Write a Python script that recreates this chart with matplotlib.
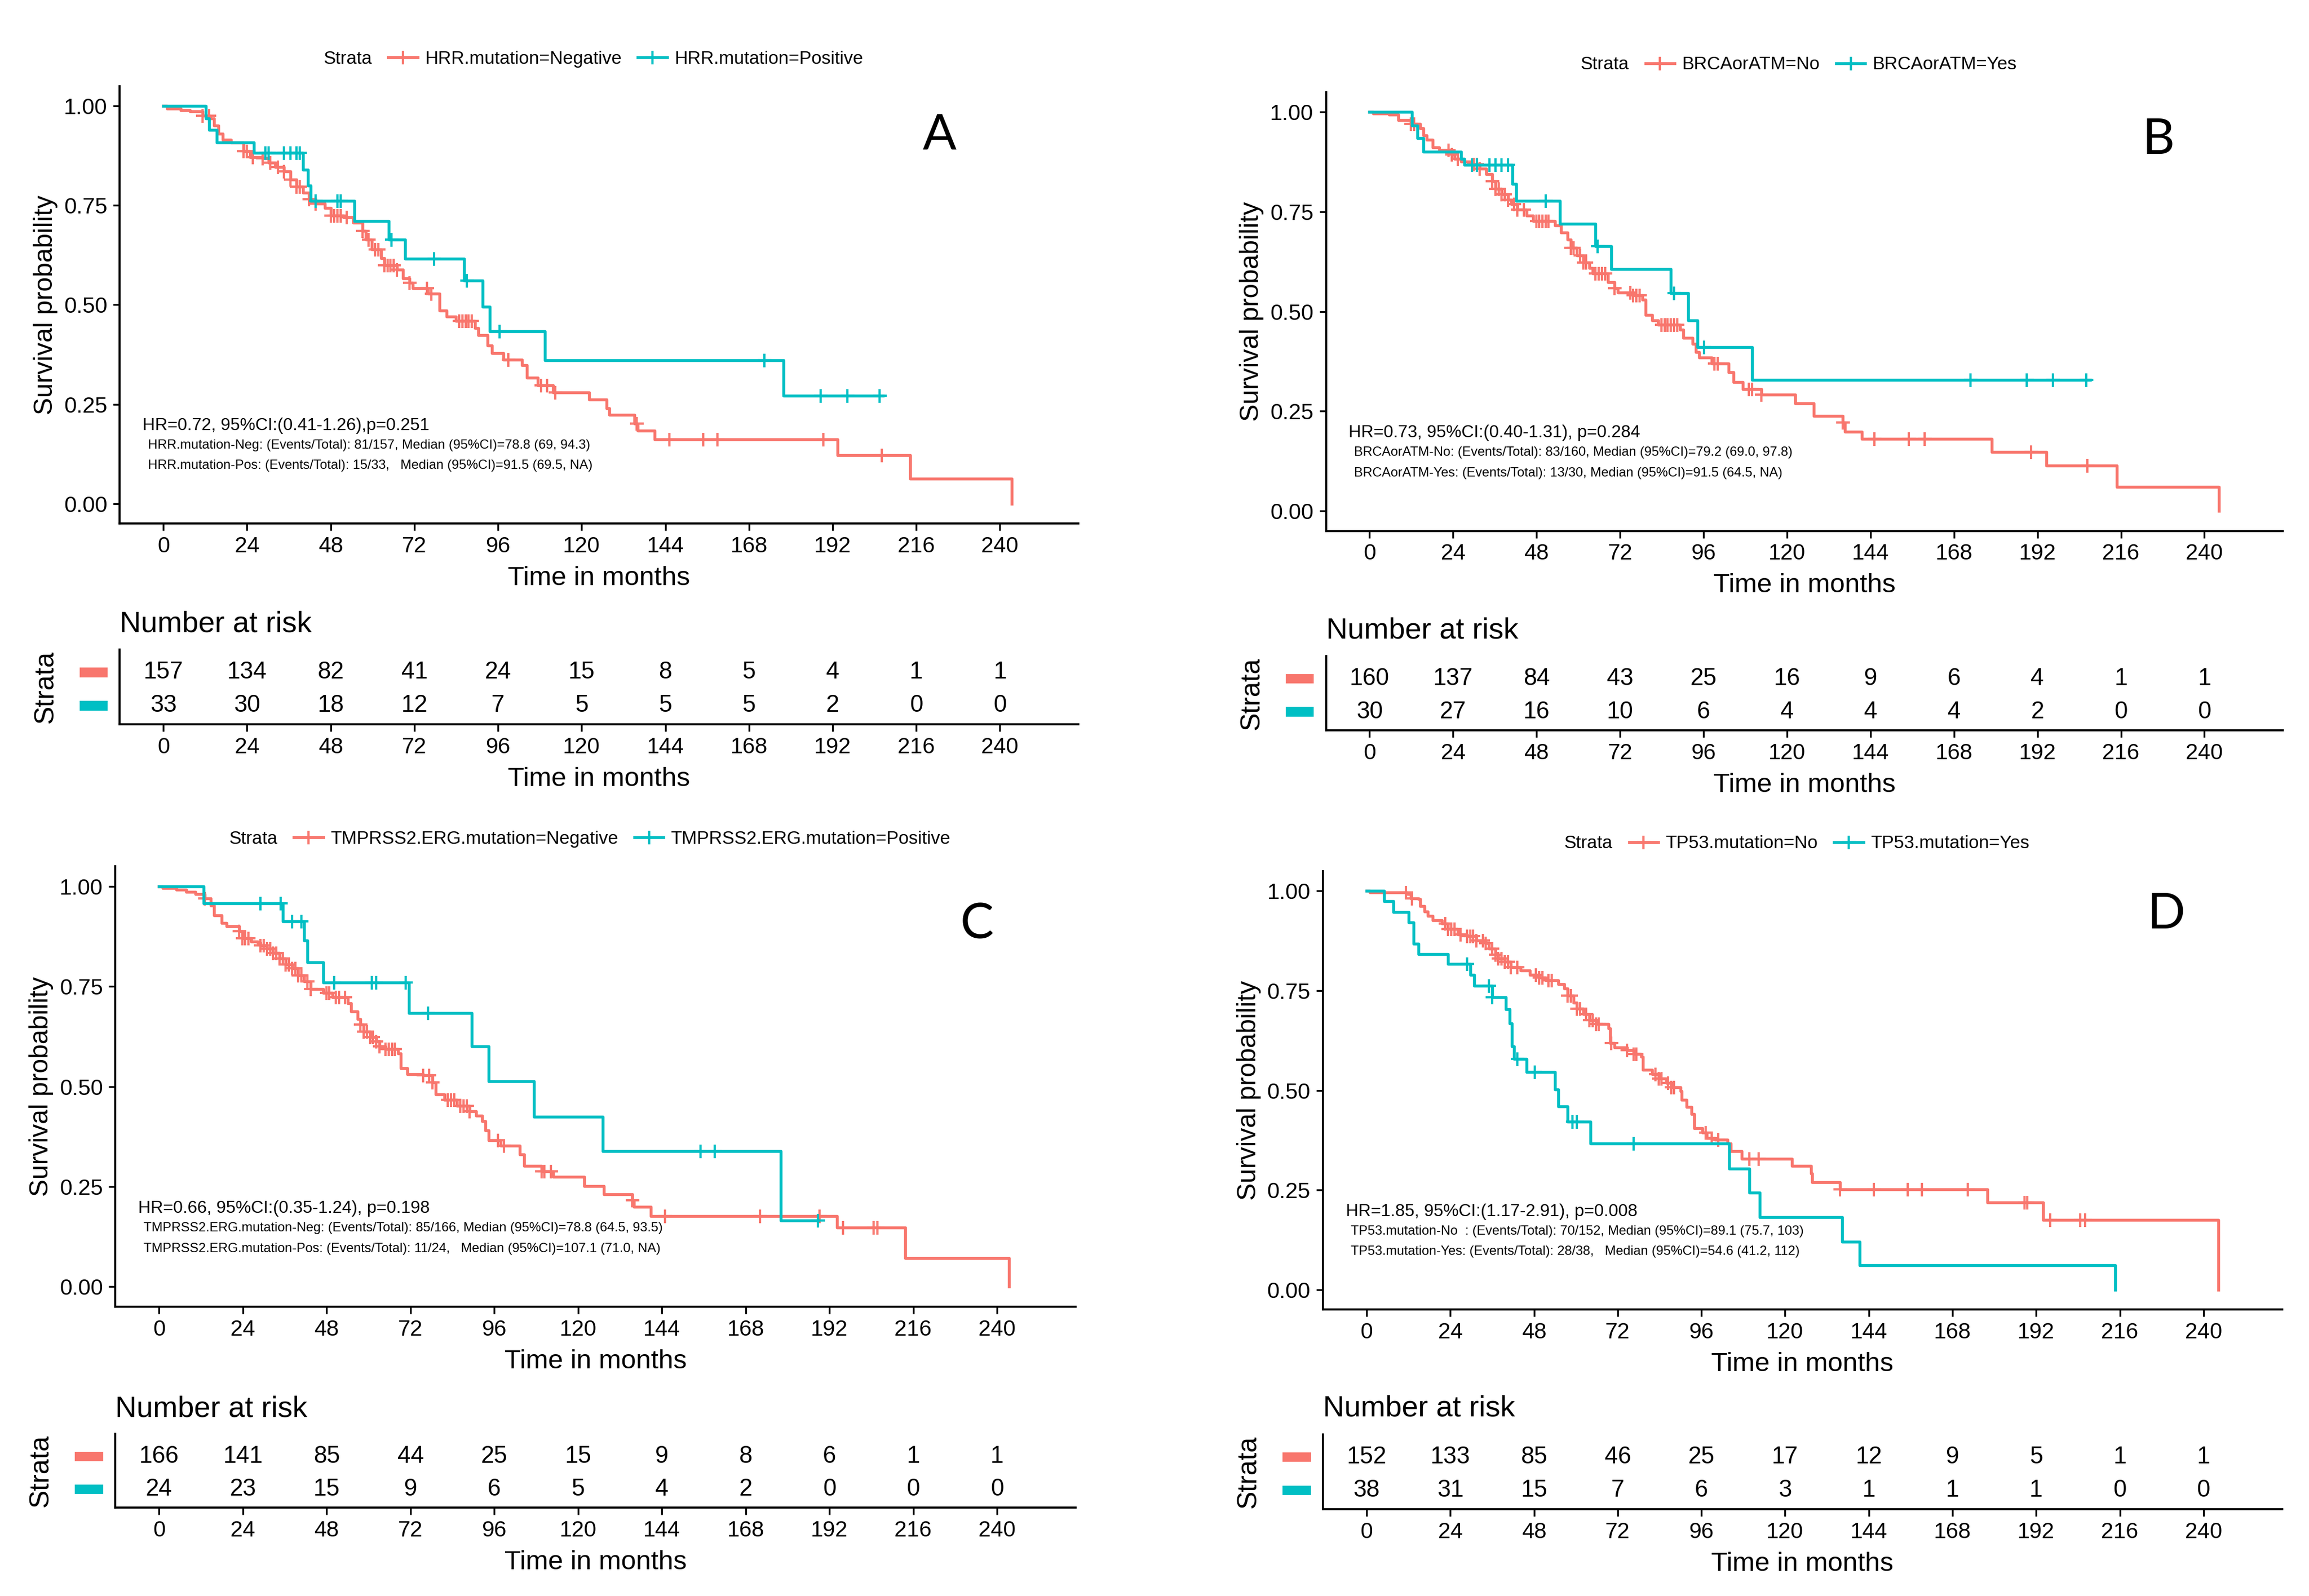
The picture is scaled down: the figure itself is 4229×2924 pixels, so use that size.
import numpy as np
import matplotlib.pyplot as plt
import matplotlib.transforms as mtransforms
from matplotlib.lines import Line2D
from matplotlib.patches import Rectangle

plt.rcParams['font.family'] = ['Liberation Sans', 'DejaVu Sans']

RED = '#F8766D'
TEAL = '#00BFC4'

time_ticks = [0, 24, 48, 72, 96, 120, 144, 168, 192, 216, 240]
surv_ticks = [0.0, 0.25, 0.5, 0.75, 1.0]

# ---------------- Panel A : HRR mutation ----------------
a_neg_t = [1.0, 5.0, 7.7, 11.3, 13.5, 14.5, 15.8, 17.1, 19.4, 23.0, 24.8, 28.4, 30.2, 32.0, 34.6,
           36.4, 38.2, 40.0, 41.8, 43.6, 46.3, 48.1, 51.7, 54.4, 57.1, 58.0, 59.8, 62.5, 63.4,
           67.0, 68.8, 70.6, 71.5, 75.9, 79.2, 81.3, 84.0, 89.4, 90.3, 93.0, 94.3, 97.5, 102.9,
           104.3, 107.4, 111.8, 122.1, 127.1, 128.0, 135.2, 136.1, 140.9, 193.5, 214.2, 243.4]
a_neg_s = [0.994, 0.99, 0.987, 0.976, 0.969, 0.951, 0.93, 0.915, 0.908, 0.887, 0.872, 0.869, 0.858,
           0.847, 0.836, 0.815, 0.797, 0.782, 0.765, 0.754, 0.743, 0.725, 0.721, 0.707, 0.686,
           0.664, 0.639, 0.617, 0.6, 0.589, 0.567, 0.556, 0.542, 0.528, 0.485, 0.47, 0.46, 0.441,
           0.424, 0.398, 0.378, 0.362, 0.348, 0.316, 0.298, 0.28, 0.262, 0.24, 0.224, 0.201,
           0.183, 0.162, 0.122, 0.062, 0.0]
a_neg_c = [11.3, 13.1, 23.0, 23.9, 25.7, 28.4, 30.7, 32.9, 34.6, 36.4, 38.2, 39.1, 41.8, 43.6, 48.1,
           49.0, 49.9, 50.8, 52.6, 57.1, 58.9, 60.7, 61.6, 63.4, 64.3, 65.2, 66.1, 67.0, 70.6,
           75.6, 76.8, 84.9, 85.8, 86.7, 87.6, 88.5, 98.9, 108.3, 110.1, 112.4, 135.7, 145.1,
           154.9, 158.9, 189.4, 206.1]
a_pos_t = [12.2, 13.1, 15.3, 26.0, 40.0, 41.5, 42.2, 54.8, 64.6, 69.3, 86.2, 91.6, 93.7, 109.5,
           177.9, 206.5]
a_pos_s = [0.969, 0.94, 0.909, 0.883, 0.84, 0.80, 0.762, 0.711, 0.664, 0.616, 0.561, 0.495, 0.433,
           0.36, 0.271, 0.271]
a_pos_c = [29.3, 30.2, 34.6, 36.4, 38.2, 39.1, 43.6, 49.9, 50.8, 65.5, 77.7, 87.1, 96.4, 172.4,
           188.5, 196.2, 205.5]
a_risk_neg = [157, 134, 82, 41, 24, 15, 8, 5, 4, 1, 1]
a_risk_pos = [33, 30, 18, 12, 7, 5, 5, 5, 2, 0, 0]
a_labels = ['HRR.mutation=Negative', 'HRR.mutation=Positive']
a_hr = 'HR=0.72, 95%CI:(0.41-1.26),p=0.251'
a_note1 = 'HRR.mutation-Neg: (Events/Total): 81/157, Median (95%CI)=78.8 (69, 94.3)'
a_note2 = 'HRR.mutation-Pos: (Events/Total): 15/33,   Median (95%CI)=91.5 (69.5, NA)'

# ---------------- Panel B : BRCA or ATM ----------------
b_no_t = [1.0, 5.6, 8.3, 11.9, 14.6, 15.5, 16.4, 18.2, 20.0, 23.6, 24.5, 26.3, 29.0, 31.7, 33.5,
          35.3, 36.2, 38.0, 39.8, 40.7, 42.5, 45.2, 47.0, 53.3, 55.1, 56.9, 57.8, 59.6, 61.4,
          63.2, 64.1, 68.6, 70.4, 71.3, 75.8, 78.5, 79.4, 81.2, 83.0, 89.3, 90.2, 92.9, 93.8,
          94.7, 98.3, 103.3, 104.6, 107.3, 112.7, 122.3, 127.7, 136.1, 136.7, 141.5, 178.8,
          194.6, 214.8, 244.1]
b_no_s = [0.996, 0.993, 0.98, 0.97, 0.959, 0.941, 0.93, 0.912, 0.905, 0.894, 0.883, 0.876, 0.869,
          0.858, 0.844, 0.826, 0.808, 0.794, 0.78, 0.769, 0.755, 0.741, 0.727, 0.716, 0.698,
          0.68, 0.659, 0.641, 0.623, 0.609, 0.595, 0.573, 0.559, 0.548, 0.541, 0.53, 0.491,
          0.477, 0.466, 0.455, 0.434, 0.419, 0.398, 0.384, 0.37, 0.348, 0.323, 0.305, 0.291,
          0.27, 0.238, 0.221, 0.199, 0.181, 0.148, 0.113, 0.06, 0.0]
b_no_c = [11.9, 12.8, 22.7, 23.6, 25.4, 29.9, 30.8, 31.7, 35.3, 36.2, 37.1, 38.0, 38.9, 39.8, 41.6,
          42.5, 44.3, 47.9, 48.8, 49.7, 50.6, 51.5, 57.8, 58.7, 60.5, 61.4, 62.3, 65.0, 65.9,
          66.8, 67.7, 70.4, 74.9, 75.8, 76.7, 77.6, 83.9, 84.8, 85.7, 86.6, 87.5, 88.4, 99.2,
          100.1, 109.1, 110.0, 112.7, 136.1, 145.1, 155.0, 159.5, 190.1, 206.3]
b_yes_t = [12.2, 13.7, 15.5, 26.3, 27.2, 41.1, 42.1, 54.7, 65.0, 69.5, 86.6, 91.6, 94.2, 110.0,
           207.2]
b_yes_s = [0.966, 0.934, 0.90, 0.882, 0.868, 0.82, 0.777, 0.72, 0.664, 0.606, 0.546, 0.477, 0.41,
           0.329, 0.329]
b_yes_c = [29.5, 30.8, 34.4, 36.2, 38.0, 39.8, 50.6, 65.5, 87.5, 96.1, 172.7, 188.9, 196.4, 206.0]
b_risk_no = [160, 137, 84, 43, 25, 16, 9, 6, 4, 1, 1]
b_risk_yes = [30, 27, 16, 10, 6, 4, 4, 4, 2, 0, 0]
b_labels = ['BRCAorATM=No', 'BRCAorATM=Yes']
b_hr = 'HR=0.73, 95%CI:(0.40-1.31), p=0.284'
b_note1 = 'BRCAorATM-No: (Events/Total): 83/160, Median (95%CI)=79.2 (69.0, 97.8)'
b_note2 = 'BRCAorATM-Yes: (Events/Total): 13/30, Median (95%CI)=91.5 (64.5, NA)'

# ---------------- Panel C : TMPRSS2-ERG ----------------
c_neg_t = [1.0, 5.0, 7.7, 10.4, 13.0, 14.8, 15.7, 18.0, 19.3, 22.9, 23.8, 26.4, 28.2, 29.1, 30.9,
           32.7, 34.5, 36.3, 38.1, 39.8, 41.6, 43.4, 47.0, 49.7, 54.1, 55.0, 56.8, 57.7, 58.6,
           60.4, 62.2, 63.1, 64.9, 68.4, 69.3, 71.1, 75.6, 78.3, 79.2, 81.8, 85.4, 89.0, 90.8,
           92.6, 93.5, 94.4, 97.9, 103.3, 104.5, 109.5, 112.8, 121.7, 127.4, 135.5, 136.0, 140.8,
           194.1, 213.7, 243.5]
c_neg_s = [0.996, 0.991, 0.986, 0.981, 0.97, 0.952, 0.927, 0.909, 0.9, 0.888, 0.87, 0.862, 0.859,
           0.852, 0.845, 0.834, 0.82, 0.805, 0.795, 0.777, 0.762, 0.744, 0.734, 0.723, 0.708,
           0.687, 0.669, 0.655, 0.637, 0.623, 0.612, 0.601, 0.594, 0.582, 0.546, 0.531, 0.528,
           0.51, 0.48, 0.467, 0.452, 0.438, 0.427, 0.413, 0.391, 0.366, 0.352, 0.331, 0.302,
           0.288, 0.274, 0.252, 0.231, 0.216, 0.199, 0.176, 0.148, 0.072, 0.0]
c_neg_c = [13.0, 22.9, 23.8, 24.7, 25.6, 29.1, 30.0, 30.9, 31.8, 32.7, 33.6, 34.5, 35.4, 36.3, 37.2,
           38.1, 39.0, 39.8, 40.7, 42.5, 43.4, 47.9, 48.8, 50.6, 51.5, 53.3, 57.7, 58.6, 59.5,
           60.4, 61.3, 62.2, 63.1, 64.9, 65.8, 66.7, 67.5, 75.6, 77.4, 78.3, 82.7, 83.6, 84.5,
           86.3, 87.2, 88.1, 89.0, 97.0, 98.8, 109.5, 110.4, 112.2, 135.5, 144.9, 172.1, 189.1,
           195.9, 204.6, 205.7]
c_pos_t = [12.7, 35.4, 41.6, 42.5, 47.0, 71.5, 89.5, 94.4, 107.4, 127.1, 178.0, 188.7]
c_pos_s = [0.958, 0.913, 0.865, 0.81, 0.76, 0.683, 0.60, 0.513, 0.425, 0.339, 0.166, 0.166]
c_pos_c = [29.1, 34.8, 38.1, 40.7, 50.2, 60.9, 62.2, 70.6, 77.0, 155.1, 159.2, 188.7]
c_risk_neg = [166, 141, 85, 44, 25, 15, 9, 8, 6, 1, 1]
c_risk_pos = [24, 23, 15, 9, 6, 5, 4, 2, 0, 0, 0]
c_labels = ['TMPRSS2.ERG.mutation=Negative', 'TMPRSS2.ERG.mutation=Positive']
c_hr = 'HR=0.66, 95%CI:(0.35-1.24), p=0.198'
c_note1 = 'TMPRSS2.ERG.mutation-Neg: (Events/Total): 85/166, Median (95%CI)=78.8 (64.5, 93.5)'
c_note2 = 'TMPRSS2.ERG.mutation-Pos: (Events/Total): 11/24,   Median (95%CI)=107.1 (71.0, NA)'

# ---------------- Panel D : TP53 ----------------
d_no_t = [1.0, 11.7, 12.6, 14.8, 15.3, 16.6, 17.6, 18.9, 21.6, 23.4, 26.1, 28.8, 31.5, 34.2, 35.1,
          36.9, 37.8, 39.6, 41.4, 44.1, 46.8, 49.5, 51.3, 54.9, 56.7, 57.6, 59.4, 60.3, 62.1,
          63.9, 65.7, 69.3, 69.8, 71.1, 74.7, 76.5, 78.8, 79.2, 81.9, 83.7, 86.0, 87.3, 90.0,
          90.3, 91.8, 93.2, 93.9, 96.3, 97.5, 99.9, 103.5, 104.4, 107.6, 122.0, 127.4, 127.7,
          135.8, 178.1, 194.0, 244.3]
d_no_s = [0.996, 0.992, 0.981, 0.98, 0.962, 0.948, 0.937, 0.926, 0.918, 0.905, 0.891, 0.887,
          0.876, 0.869, 0.855, 0.84, 0.83, 0.823, 0.809, 0.801, 0.79, 0.783, 0.776, 0.766, 0.755,
          0.737, 0.719, 0.705, 0.691, 0.676, 0.666, 0.655, 0.619, 0.608, 0.601, 0.591, 0.584,
          0.551, 0.541, 0.53, 0.519, 0.508, 0.498, 0.476, 0.458, 0.44, 0.405, 0.394, 0.38, 0.376,
          0.366, 0.348, 0.328, 0.31, 0.291, 0.269, 0.251, 0.219, 0.175, 0.0]
d_no_c = [11.2, 13.0, 22.5, 23.4, 24.3, 25.2, 27.0, 28.8, 29.7, 30.6, 31.5, 33.3, 34.2, 36.0, 36.9,
          37.8, 38.7, 39.6, 40.5, 41.4, 43.2, 48.6, 49.5, 50.4, 52.2, 53.1, 57.6, 58.5, 60.3,
          61.2, 63.0, 63.9, 64.8, 65.7, 66.6, 70.2, 74.7, 76.5, 77.4, 82.8, 83.7, 84.6, 86.4,
          87.3, 88.2, 97.2, 99.0, 100.8, 109.8, 112.4, 135.8, 145.4, 155.1, 159.2, 172.4, 188.6,
          189.5, 196.1, 204.7, 206.0]
d_yes_t = [5.0, 7.6, 12.1, 13.5, 14.9, 23.4, 29.7, 30.9, 36.0, 39.9, 41.0, 41.7, 42.3, 45.9, 54.0,
           54.9, 57.6, 64.2, 104.0, 109.8, 112.8, 136.4, 141.4, 214.6]
d_yes_s = [0.974, 0.947, 0.921, 0.868, 0.842, 0.817, 0.79, 0.762, 0.734, 0.703, 0.667, 0.61,
           0.579, 0.546, 0.502, 0.46, 0.421, 0.366, 0.303, 0.244, 0.182, 0.12, 0.062, 0.0]
d_yes_c = [28.8, 35.1, 36.0, 43.2, 48.2, 59.0, 60.3, 76.5]
d_risk_no = [152, 133, 85, 46, 25, 17, 12, 9, 5, 1, 1]
d_risk_yes = [38, 31, 15, 7, 6, 3, 1, 1, 1, 0, 0]
d_labels = ['TP53.mutation=No', 'TP53.mutation=Yes']
d_hr = 'HR=1.85, 95%CI:(1.17-2.91), p=0.008'
d_note1 = 'TP53.mutation-No  : (Events/Total): 70/152, Median (95%CI)=89.1 (75.7, 103)'
d_note2 = 'TP53.mutation-Yes: (Events/Total): 28/38,   Median (95%CI)=54.6 (41.2, 112)'

XLIM = (-12.5, 262.5)
YLIM = (-0.05, 1.05)


def style_axis(ax):
    for side in ['top', 'right']:
        ax.spines[side].set_visible(False)
    for side in ['left', 'bottom']:
        ax.spines[side].set_linewidth(0.9)
    ax.tick_params(length=3, width=0.8, pad=2.5, labelsize=9.8, colors='black')
    ax.set_xlim(*XLIM)
    ax.set_xticks(time_ticks)


def draw_curve(ax, t, s, cens, color):
    tt = np.r_[0.0, t]
    ss = np.r_[1.0, s]
    ax.plot(tt, ss, drawstyle='steps-post', color=color, lw=1.3)
    idx = np.searchsorted(tt, cens, side='right') - 1
    ax.plot(cens, ss[idx], ls='none', marker='+', ms=6, mew=1.0, color=color)


def draw_panel(main_rect, table_rect, curve1, curve2, risk1, risk2, labels, hr, note1, note2,
               letter, letter_pos):
    ax = fig.add_axes(main_rect)
    style_axis(ax)
    ax.set_ylim(*YLIM)
    ax.set_yticks(surv_ticks)
    ax.set_yticklabels(['0.00', '0.25', '0.50', '0.75', '1.00'])
    draw_curve(ax, *curve1, RED)
    draw_curve(ax, *curve2, TEAL)
    ax.set_xlabel('Time in months', fontsize=11.8, labelpad=4)
    ax.text(-0.0775, 0.5, 'Survival probability', transform=ax.transAxes, rotation=90,
            ha='center', va='center', fontsize=11.5)
    ax.text(-6, 0.196, hr, fontsize=7.6, ha='left', va='center')
    ax.text(-4.5, 0.146, note1, fontsize=5.8, ha='left', va='center')
    ax.text(-4.5, 0.095, note2, fontsize=5.8, ha='left', va='center')
    ax.text(letter_pos[0], letter_pos[1], letter, transform=ax.transAxes, fontsize=22,
            family=['Lato', 'DejaVu Sans'], ha='center', va='center')

    handles = [Line2D([], [], color='none'),
               Line2D([], [], color=RED, marker='+', ms=6, mew=1.0, lw=1.3),
               Line2D([], [], color=TEAL, marker='+', ms=6, mew=1.0, lw=1.3)]
    ax.legend(handles, ['Strata'] + labels, loc='center', bbox_to_anchor=(0.475, 1.062),
              ncol=3, frameon=False, fontsize=8.0, handlelength=1.6, handletextpad=0.4,
              columnspacing=0.9, borderaxespad=0)

    tab = fig.add_axes(table_rect)
    style_axis(tab)
    tab.set_ylim(-0.56, 1.69)
    tab.set_yticks([])
    # coloured strata keys left of the risk table
    key_tr = mtransforms.blended_transform_factory(tab.transAxes, tab.transData)
    for row, col in zip([1, 0], [RED, TEAL]):
        tab.add_patch(Rectangle((-0.041, row - 0.11), 0.027, 0.22, transform=key_tr,
                                color=col, clip_on=False))
    for x, n1, n2 in zip(time_ticks, risk1, risk2):
        tab.text(x, 1, str(n1), ha='center', va='center', fontsize=10.5)
        tab.text(x, 0, str(n2), ha='center', va='center', fontsize=10.5)
    tab.set_xlabel('Time in months', fontsize=11.8, labelpad=4)
    tab.text(0.0, 1.34, 'Number at risk', transform=tab.transAxes, ha='left', va='center',
             fontsize=13)
    tab.text(-0.0775, 0.5, 'Strata', transform=tab.transAxes, rotation=90,
             ha='center', va='center', fontsize=12)


fig = plt.figure(figsize=(4229 / 300, 2924 / 300), dpi=300)

draw_panel([0.0519, 0.6720, 0.4151, 0.2740], [0.0519, 0.5461, 0.4151, 0.0470],
           (a_neg_t, a_neg_s, a_neg_c), (a_pos_t, a_pos_s, a_pos_c),
           a_risk_neg, a_risk_pos, a_labels, a_hr, a_note1, a_note2, 'A', (0.855, 0.887))
draw_panel([0.5743, 0.6674, 0.4143, 0.2749], [0.5743, 0.5424, 0.4143, 0.0466],
           (b_no_t, b_no_s, b_no_c), (b_yes_t, b_yes_s, b_yes_c),
           b_risk_no, b_risk_yes, b_labels, b_hr, b_note1, b_note2, 'B', (0.870, 0.891))
draw_panel([0.0500, 0.1812, 0.4158, 0.2760], [0.0500, 0.0554, 0.4158, 0.0461],
           (c_neg_t, c_neg_s, c_neg_c), (c_pos_t, c_pos_s, c_pos_c),
           c_risk_neg, c_risk_pos, c_labels, c_hr, c_note1, c_note2, 'C', (0.897, 0.868))
draw_panel([0.5730, 0.1794, 0.4153, 0.2749], [0.5730, 0.0544, 0.4153, 0.0470],
           (d_no_t, d_no_s, d_no_c), (d_yes_t, d_yes_s, d_yes_c),
           d_risk_no, d_risk_yes, d_labels, d_hr, d_note1, d_note2, 'D', (0.879, 0.901))

fig.savefig('out.png', dpi=300, facecolor='white')
